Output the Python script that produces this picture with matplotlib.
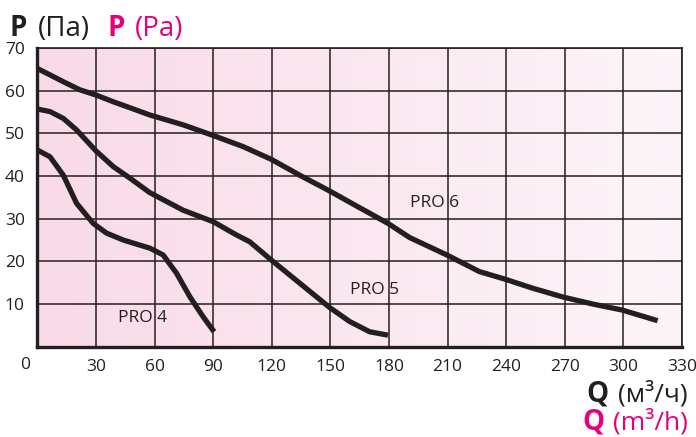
import matplotlib.pyplot as plt
import numpy as np

plt.rcParams['font.family'] = ['Open Sans', 'DejaVu Sans']

# Fan curves (Q in m3/h, P in Pa)
pro4_q = [0, 6.5, 13.3, 20.1, 28.6, 35.5, 44, 52.5, 57.6, 64.4, 71.3, 78.1, 84.9, 90.5]
pro4_p = [46.1, 44.5, 40.2, 33.6, 28.9, 26.6, 25.0, 23.8, 23.1, 21.5, 17.2, 11.7, 7.0, 3.5]

pro5_q = [0, 6.5, 13.3, 20.1, 30, 38.9, 47.4, 57.6, 74.6, 90, 101.9, 108.7, 119.8,
          134.3, 149.6, 159.9, 170.1, 179.5]
pro5_p = [55.7, 55.1, 53.5, 50.8, 45.9, 42.2, 39.5, 36.1, 32.0, 29.3, 26.2, 24.6, 20.3,
          14.9, 9.2, 5.9, 3.5, 2.7]

pro6_q = [0, 6.5, 13.3, 21.8, 29.9, 38.9, 47.4, 57.6, 74.6, 90, 105.3, 119.8, 134.3,
          149.6, 163.3, 179.5, 190.5, 209.6, 226.3, 239.6, 253.6, 269.4, 284.3, 299.3, 317.5]
pro6_p = [65.2, 63.7, 62.1, 60.2, 59.0, 57.4, 56.0, 54.3, 52.0, 49.5, 46.9, 43.9, 40.2,
          36.5, 33.0, 28.9, 25.6, 21.5, 17.6, 15.8, 13.7, 11.6, 10.0, 8.6, 6.1]

curve_names = ['PRO 4', 'PRO 5', 'PRO 6']
label_pos = [(53.7, 6.7), (172.6, 13.3), (203.3, 33.7)]

x_ticks = list(range(30, 331, 30))
y_ticks = list(range(10, 71, 10))

dark = '#231f20'
magenta = '#e6007e'

W, H = 696, 437
fig = plt.figure(figsize=(W / 100, H / 100), dpi=100)
ax = fig.add_axes([37.3 / W, 1 - 346.7 / H, (682 - 37.3) / W, (346.7 - 48) / H])
ax.set_xlim(0, 330)
ax.set_ylim(0, 70)

# pink to white background gradient
grad = np.linspace(0, 1, 256).reshape(1, -1)
left = np.array([249, 218, 232]) / 255
right = np.array([253, 245, 249]) / 255
img = left[None, None, :] * (1 - grad[..., None]) + right[None, None, :] * grad[..., None]
ax.imshow(img, extent=[0, 330, 0, 70], aspect='auto', zorder=0)

ax.set_xticks(x_ticks)
ax.set_yticks(y_ticks)
ax.grid(True, color=dark, lw=1.1, zorder=1)
ax.tick_params(length=0, labelsize=12.5, colors=dark, pad=9)
for side in ['top', 'right']:
    ax.spines[side].set_linewidth(1.2)
    ax.spines[side].set_color(dark)
for side in ['left', 'bottom']:
    ax.spines[side].set_linewidth(2.4)
    ax.spines[side].set_color(dark)

for q, p in [(pro4_q, pro4_p), (pro5_q, pro5_p), (pro6_q, pro6_p)]:
    ax.plot(q, p, color=dark, lw=3.8, solid_capstyle='butt',
            solid_joinstyle='round', zorder=3)

for name, (x, y) in zip(curve_names, label_pos):
    ax.text(x, y, name, fontsize=12.5, color=dark, ha='center', va='center', zorder=4)

# "0" at the origin sits left of the axis
ax.text(-6, -4.3, '0', fontsize=12.5, color=dark, ha='center', va='center',
        clip_on=False)


def px(x, y):
    return x / W, 1 - y / H


# titles
fs = 20
fig.text(*px(10, 36), 'P', fontsize=fs, fontweight='bold', color=dark)
fig.text(*px(38, 36), '(Па)', fontsize=fs, color=dark)
fig.text(*px(107, 36), 'P', fontsize=fs, fontweight='bold', color=magenta)
fig.text(*px(135, 36), '(Pa)', fontsize=fs, color=magenta)

fig.text(*px(688, 402), '(м³/ч)', fontsize=19, color=dark, ha='right')
fig.text(*px(586, 402), 'Q', fontsize=fs, fontweight='bold', color=dark)
fig.text(*px(688, 429), '(m³/h)', fontsize=19, color=magenta, ha='right')
fig.text(*px(582, 429), 'Q', fontsize=fs, fontweight='bold', color=magenta)

fig.savefig('out.png', dpi=100)
